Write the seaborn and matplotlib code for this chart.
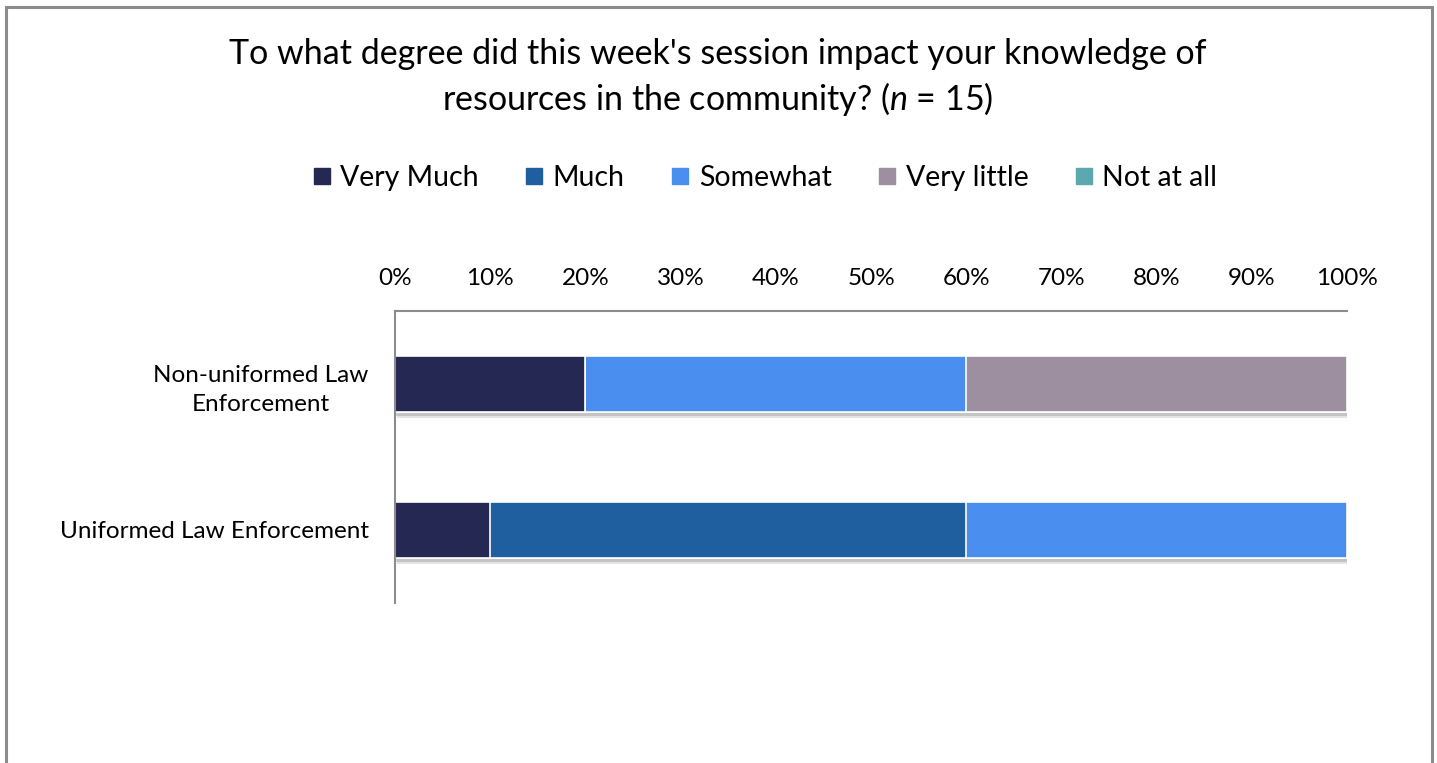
import matplotlib
matplotlib.use("Agg")
import matplotlib.pyplot as plt
import matplotlib.patheffects as pe
from matplotlib.lines import Line2D
from matplotlib.patches import Rectangle
import numpy as np
import pandas as pd
import seaborn as sns

# ---- data ----
groups = ["Non-uniformed Law\nEnforcement", "Uniformed Law Enforcement"]
responses = ["Very Much", "Much", "Somewhat", "Very little", "Not at all"]
very_much = [20, 10]
much = [0, 50]
somewhat = [40, 40]
very_little = [40, 0]
not_at_all = [0, 0]
colors = ["#262854", "#1F5F9F", "#4A8FF0", "#9E8FA0", "#5BA8AE"]
xticks = [0, 10, 20, 30, 40, 50, 60, 70, 80, 90, 100]
title = "To what degree did this week's session impact your knowledge of\nresources in the community? ($\\it{n}$ = 15)"

sns.set_theme(style="white")
plt.rcParams["font.family"] = ["Lato", "DejaVu Sans"]
plt.rcParams["mathtext.fontset"] = "custom"
plt.rcParams["mathtext.it"] = "Lato:italic"
plt.rcParams["mathtext.rm"] = "Lato"
plt.rcParams["text.color"] = "black"
plt.rcParams["xtick.color"] = "black"
plt.rcParams["ytick.color"] = "black"

series = [very_much, much, somewhat, very_little, not_at_all]
cum = np.cumsum(np.array(series, dtype=float), axis=0)

fig = plt.figure(figsize=(14.37, 7.63), dpi=100)
ax = fig.add_axes([0.2749, 0.2097, 0.6625, 0.3827])

# draw cumulative totals from last to first so earlier segments overlay
for i in range(len(responses) - 1, -1, -1):
    df = pd.DataFrame({"group": groups, "value": cum[i]})
    sns.barplot(data=df, x="value", y="group", orient="h", color=colors[i],
                saturation=1, width=0.39, edgecolor="white", linewidth=1.2, ax=ax)
    if i == len(responses) - 1:
        for p in ax.patches:
            p.set_path_effects([
                pe.SimplePatchShadow(offset=(1.5, -4), shadow_rgbFace="#b0b0b0", alpha=0.35),
                pe.SimplePatchShadow(offset=(1.0, -2.5), shadow_rgbFace="#a0a0a0", alpha=0.45),
                pe.Normal()])

ax.set_xlim(0, 100)
ax.set_ylim(1.5, -0.5)
ax.set_xlabel("")
ax.set_ylabel("")
ax.xaxis.tick_top()
ax.set_xticks(xticks)
ax.set_xticklabels([f"{t}%" for t in xticks], fontsize=17.5, color="black")
ax.tick_params(axis="x", length=0, pad=15.5)
ax.tick_params(axis="y", length=0, pad=19, labelsize=17.5)
for lab in ax.get_yticklabels():
    lab.set_multialignment("center")
    lab.set_linespacing(1.45)
    lab.set_color("black")
for s in ["bottom", "right"]:
    ax.spines[s].set_visible(False)
for s in ["top", "left"]:
    ax.spines[s].set_color("#8c8c8c")
    ax.spines[s].set_linewidth(1.5)

fig.text(0.4997, 0.898, title, ha="center", va="center", fontsize=24.5,
         linespacing=1.33, color="black")

handles = [Line2D([0], [0], marker="s", linestyle="", markersize=12,
                  markerfacecolor=c, markeredgecolor=c) for c in colors]
leg = fig.legend(handles, responses, loc="center", bbox_to_anchor=(0.532, 0.7667),
                 ncol=5, frameon=False, fontsize=20.5, handletextpad=0.3,
                 columnspacing=1.6, handlelength=0.7)
for t in leg.get_texts():
    t.set_color("black")

fig.patches.append(Rectangle((0.004, -0.02), 0.9925, 1.0108,
                             transform=fig.transFigure, fill=False,
                             edgecolor="#8c8c8c", linewidth=2.2))

fig.savefig("out.png", dpi=100)
